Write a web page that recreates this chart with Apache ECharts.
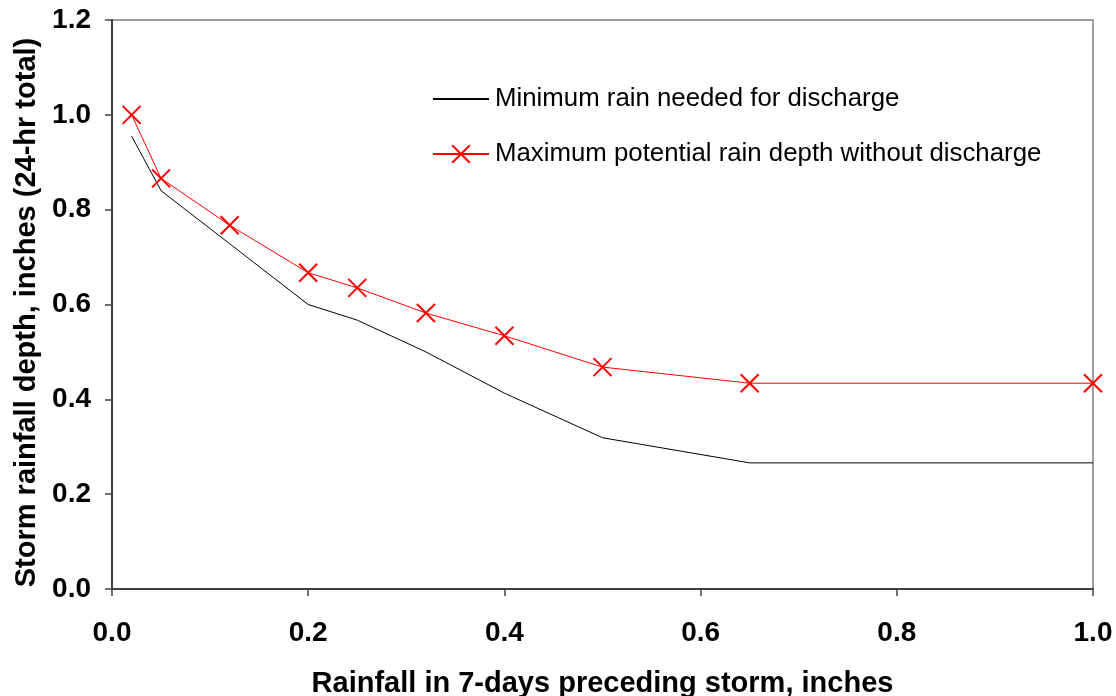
<!DOCTYPE html>
<html>
<head>
<meta charset="utf-8">
<script src="https://cdn.jsdelivr.net/npm/echarts@6/dist/echarts.min.js"></script>
<style>html,body{margin:0;padding:0;background:#fff}#c{width:1116px;height:696px}</style>
</head>
<body>
<div id="c"></div>
<script>
const xValues = [0.02, 0.05, 0.12, 0.2, 0.25, 0.32, 0.4, 0.5, 0.65, 1.0];
const minRain = [0.955, 0.84, 0.728, 0.6, 0.567, 0.5, 0.413, 0.319, 0.266, 0.266];
const maxRain = [1.0, 0.866, 0.767, 0.667, 0.635, 0.582, 0.534, 0.468, 0.434, 0.434];
const seriesNames = ['Minimum rain needed for discharge', 'Maximum potential rain depth without discharge'];
const xTitle = 'Rainfall in 7-days preceding storm, inches';
const yTitle = 'Storm rainfall depth, inches (24-hr total)';

const font = 'Arial, "Liberation Sans", sans-serif';
const chart = echarts.init(document.getElementById('c'));
const xPath = 'path://M0,0 L10,10 M10,0 L0,10';
chart.setOption({
  animation: false,
  backgroundColor: '#fff',
  grid: { left: 112, right: 23, top: 20, bottom: 107, outerBoundsMode: 'none', containLabel: false,
          show: true, borderColor: '#808080', borderWidth: 1.5 },
  legend: {
    orient: 'vertical', left: 427, top: 81, itemGap: 29, itemWidth: 56, itemHeight: 22,
    textStyle: { fontFamily: font, fontSize: 25.8, lineHeight: 25, color: '#000', padding: [0,0,0,1] },
    data: [
      { name: seriesNames[0], itemStyle: { opacity: 0 } },
      { name: seriesNames[1] }
    ]
  },
  xAxis: {
    type: 'value', min: 0, max: 1, interval: 0.2,
    name: xTitle, nameLocation: 'middle', nameGap: 80,
    nameTextStyle: { fontFamily: font, fontSize: 29, fontWeight: 'bold', color: '#000' },
    axisLine: { onZero: false, lineStyle: { color: '#404040', width: 2 } },
    axisTick: { show: true, length: 7, lineStyle: { color: '#404040', width: 1.5 } },
    axisLabel: { fontFamily: font, fontSize: 28, fontWeight: 'bold', color: '#000', margin: 30, formatter: v => v.toFixed(1) },
    splitLine: { show: false }
  },
  yAxis: {
    type: 'value', min: 0, max: 1.2, interval: 0.2,
    name: yTitle, nameLocation: 'middle', nameGap: 68, nameRotate: 90,
    nameTextStyle: { fontFamily: font, fontSize: 29, fontWeight: 'bold', color: '#000', padding: [0, 16, 0, 0] },
    axisLine: { show: true, lineStyle: { color: '#404040', width: 2 } },
    axisTick: { show: true, length: 7, lineStyle: { color: '#404040', width: 1.5 } },
    axisLabel: { fontFamily: font, fontSize: 28, fontWeight: 'bold', color: '#000', margin: 21, formatter: v => v.toFixed(1) },
    splitLine: { show: false }
  },
  series: [
    {
      name: seriesNames[0], type: 'line', symbol: 'none',
      lineStyle: { color: '#000', width: 1 }, itemStyle: { color: '#000' },
      data: xValues.map((x, i) => [x, minRain[i]])
    },
    {
      name: seriesNames[1], type: 'line', symbol: xPath, symbolSize: 18,
      lineStyle: { color: '#ff0000', width: 1 },
      itemStyle: { color: '#ff0000', borderColor: '#ff0000', borderWidth: 2 },
      data: xValues.map((x, i) => [x, maxRain[i]])
    }
  ]
});
</script>
</body>
</html>
